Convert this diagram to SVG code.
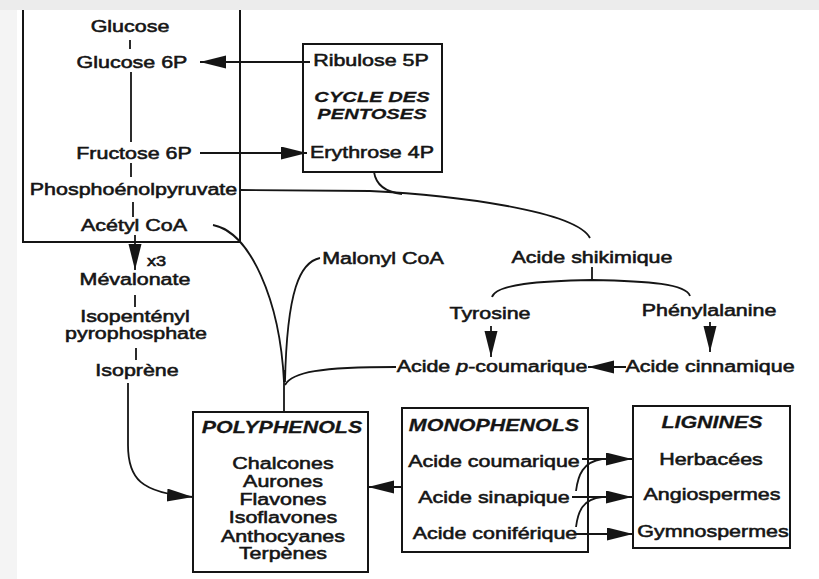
<svg xmlns="http://www.w3.org/2000/svg" width="819" height="579" viewBox="0 0 819 579">
<style>
  text{font-family:"Liberation Sans",Arial,Helvetica,sans-serif;font-size:16.5px;fill:#151515;stroke:#151515;stroke-width:0.55;text-anchor:middle}
  .h{font-weight:bold;font-style:italic;stroke-width:0.25}
  .s{font-size:14px;text-anchor:start}
  .box{fill:none;stroke:#151515;stroke-width:2}
  .ln{fill:none;stroke:#151515;stroke-width:1.8}
  .ar{fill:none;stroke:#151515;stroke-width:1.8;marker-end:url(#ah)}
</style>
<defs>
  <marker id="ah" markerUnits="userSpaceOnUse" markerWidth="30" markerHeight="16" refX="26" refY="6.5" orient="auto">
    <path d="M0,0 L26,6.5 L0,13 Z" fill="#151515"/>
  </marker>
</defs>
<rect x="0" y="0" width="819" height="579" fill="#ffffff"/>
<rect x="0" y="0" width="819" height="10" fill="#ececec"/>
<rect x="0" y="10" width="17" height="569" fill="#f4f4f4"/>

<g id="connectors">
  <path class="ln" d="M130,40 L130,49"/>
  <path class="ln" d="M131,72 L131,142"/>
  <path class="ln" d="M131,163 L131,177"/>
  <path class="ln" d="M133,202 L133,217"/>
  <path class="ar" d="M135,235 L135,270"/>
  <path class="ln" d="M135,295 L135,307"/>
  <path class="ln" d="M136,348 L136,360"/>
  <path class="ar" d="M310,62 L200,62"/>
  <path class="ar" d="M200,153 L307,153"/>
  <path class="ln" d="M240,190 L370,191 C450,195 575,210 590,238"/>
  <path class="ln" d="M374,172 C376,185 385,192 402,194"/>
  <path class="ln" d="M592,267 L592,280"/>
  <path class="ln" d="M492,297 C496,284 540,281 592,280 C650,281 686,284 690,296"/>
  <path class="ar" d="M491,326 L491,357"/>
  <path class="ar" d="M710,322 L710,352"/>
  <path class="ar" d="M626,367 L588,367"/>
  <path class="ln" d="M213,225 C250,232 280,300 284,382"/>
  <path class="ln" d="M320,258 C300,262 287,290 285,382"/>
  <path class="ln" d="M285,385 C292,372 320,367 396,367"/>
  <path class="ln" d="M284,370 L284,412"/>
  <path class="ar" d="M128,383 L128,445 C128,478 140,493 193,497"/>
  <path class="ar" d="M402,487 L368,487"/>
  <path class="ar" d="M582,459 L632,459"/>
  <path class="ar" d="M572,497 L632,497"/>
  <path class="ar" d="M576,534 L633,534"/>
  <path class="ln" d="M576,491 C578,475 583,462 602,459"/>
  <path class="ln" d="M576,527 C578,511 583,499 602,497"/>
</g>

<g id="glycolyse">
  <path class="box" d="M23,10 L23,242 L240,242 L240,10"/>
  <text transform="translate(130,32) scale(1.3,1)">Glucose</text>
  <text transform="translate(132,68) scale(1.3,1)">Glucose 6P</text>
  <text transform="translate(134,159) scale(1.3,1)">Fructose 6P</text>
  <text transform="translate(133.5,195) scale(1.3,1)">Phosphoénolpyruvate</text>
  <text transform="translate(134,231) scale(1.3,1)">Acétyl CoA</text>
</g>

<g id="pentoses">
  <rect class="box" x="303" y="44" width="139" height="128"/>
  <text transform="translate(371,66) scale(1.3,1)">Ribulose 5P</text>
  <text class="h" style="font-size:15.5px" transform="translate(372,102) scale(1.3,1)">CYCLE DES</text>
  <text class="h" style="font-size:15.5px" transform="translate(372,119) scale(1.3,1)">PENTOSES</text>
  <text transform="translate(372,158) scale(1.3,1)">Erythrose 4P</text>
</g>

<g id="mevalonate">
  <text class="s" transform="translate(147,266) scale(1.3,1)">x3</text>
  <text transform="translate(135,285) scale(1.3,1)">Mévalonate</text>
</g>
<g id="isopentenyl">
  <text transform="translate(135,322) scale(1.3,1)">Isopentényl</text>
  <text transform="translate(136,339) scale(1.3,1)">pyrophosphate</text>
</g>
<g id="isoprene">
  <text transform="translate(137,376) scale(1.3,1)">Isoprène</text>
</g>

<g id="malonyl">
  <text transform="translate(383,264) scale(1.3,1)">Malonyl CoA</text>
</g>
<g id="shikimique">
  <text transform="translate(592,263) scale(1.3,1)">Acide shikimique</text>
</g>
<g id="tyrosine">
  <text transform="translate(490,319) scale(1.3,1)">Tyrosine</text>
</g>
<g id="phenylalanine">
  <text transform="translate(709,316) scale(1.3,1)">Phénylalanine</text>
</g>
<g id="coumarique">
  <text transform="translate(492,372) scale(1.3,1)">Acide <tspan font-style="italic">p</tspan>-coumarique</text>
</g>
<g id="cinnamique">
  <text transform="translate(710,372) scale(1.3,1)">Acide cinnamique</text>
</g>

<g id="polyphenols">
  <rect class="box" x="193" y="412" width="175" height="160"/>
  <text class="h" transform="translate(282,433) scale(1.3,1)">POLYPHENOLS</text>
  <text transform="translate(283,469) scale(1.3,1)">Chalcones</text>
  <text transform="translate(283,487) scale(1.3,1)">Aurones</text>
  <text transform="translate(283,505) scale(1.3,1)">Flavones</text>
  <text transform="translate(283,523) scale(1.3,1)">Isoflavones</text>
  <text transform="translate(283,542) scale(1.3,1)">Anthocyanes</text>
  <text transform="translate(283,559) scale(1.3,1)">Terpènes</text>
</g>

<g id="monophenols">
  <rect class="box" x="402" y="408" width="186" height="144"/>
  <text class="h" transform="translate(494,431) scale(1.3,1)">MONOPHENOLS</text>
  <text transform="translate(494,467) scale(1.3,1)">Acide coumarique</text>
  <text transform="translate(494,503) scale(1.3,1)">Acide sinapique</text>
  <text transform="translate(495,539) scale(1.3,1)">Acide coniférique</text>
</g>

<g id="lignines">
  <rect class="box" x="633" y="406" width="157" height="142"/>
  <text class="h" transform="translate(712,428) scale(1.3,1)">LIGNINES</text>
  <text transform="translate(711,465) scale(1.3,1)">Herbacées</text>
  <text transform="translate(712,500) scale(1.3,1)">Angiospermes</text>
  <text transform="translate(713,537) scale(1.3,1)">Gymnospermes</text>
</g>
</svg>
